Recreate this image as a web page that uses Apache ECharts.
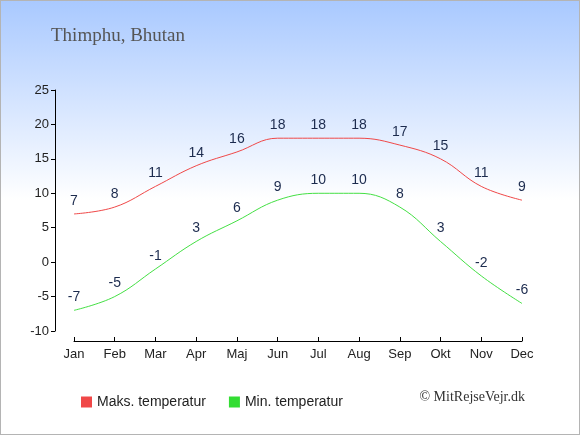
<!DOCTYPE html>
<html>
<head>
<meta charset="utf-8">
<script src="https://cdn.jsdelivr.net/npm/echarts@6/dist/echarts.min.js"></script>
<style>
  html, body { margin: 0; padding: 0; background: #fff; }
  #box { width: 578px; height: 433px; border: 1px solid #b4b4b4; }
</style>
</head>
<body>
<div id="box"></div>
<script>
const months = ['Jan','Feb','Mar','Apr','Maj','Jun','Jul','Aug','Sep','Okt','Nov','Dec']
const maxTemp = [7, 8, 11, 14, 16, 18, 18, 18, 17, 15, 11, 9]
const minTemp = [-7, -5, -1, 3, 6, 9, 10, 10, 8, 3, -2, -6]
const yTicks = { min: -10, max: 25, step: 5 }

const chart = echarts.init(document.getElementById('box'), null, { renderer: 'canvas' })

const lbl = { show: true, position: 'top', distance: 6, color: '#1c2b4e', fontSize: 14, fontFamily: 'Liberation Sans, Arial' }

chart.setOption({
  animation: false,
  backgroundColor: {
    type: 'linear', x: 0, y: 0, x2: 0, y2: 1,
    colorStops: [
      { offset: 0, color: '#a9c9ff' },
      { offset: 0.46, color: '#ffffff' },
      { offset: 1, color: '#ffffff' }
    ]
  },
  title: {
    text: 'Thimphu, Bhutan', left: 45, top: 21,
    textStyle: { fontFamily: 'Liberation Serif, serif', fontSize: 19, fontWeight: 'normal', color: '#555' }
  },
  legend: {
    left: 75, top: 389, icon: 'rect', itemWidth: 11, itemHeight: 11, itemGap: 23,
    textStyle: { fontFamily: 'Liberation Sans, Arial', fontSize: 14, color: '#222' },
    data: ['Maks. temperatur', 'Min. temperatur']
  },
  graphic: [{
    type: 'text', right: 54, top: 389,
    style: { text: '© MitRejseVejr.dk', fontFamily: 'Liberation Serif, serif', fontSize: 14, fill: '#333' }
  }],
  grid: { left: 73, right: 57, top: 89, bottom: 103 },
  xAxis: {
    type: 'category', data: months, boundaryGap: false, offset: 10,
    axisLine: { onZero: false, lineStyle: { color: '#000' } },
    axisTick: { inside: true, length: 4, alignWithLabel: true, lineStyle: { color: '#000' } },
    axisLabel: { color: '#222', fontSize: 13, fontFamily: 'Liberation Sans, Arial', margin: 7 },
    splitLine: { show: false }
  },
  yAxis: {
    type: 'value', min: yTicks.min, max: yTicks.max, interval: yTicks.step, offset: 19,
    axisLine: { show: true, lineStyle: { color: '#000' } },
    axisTick: { show: true, length: 4, lineStyle: { color: '#000' } },
    axisLabel: { color: '#222', fontSize: 13, fontFamily: 'Liberation Sans, Arial', margin: 6 },
    splitLine: { show: false }
  },
  series: [
    {
      name: 'Maks. temperatur', type: 'line', data: maxTemp, smooth: 0.4,
      symbol: 'circle', symbolSize: 0, color: '#f04848',
      lineStyle: { width: 1, color: '#f04848' }, label: lbl
    },
    {
      name: 'Min. temperatur', type: 'line', data: minTemp, smooth: 0.4,
      symbol: 'circle', symbolSize: 0, color: '#33dd33',
      lineStyle: { width: 1, color: '#44e044' }, label: lbl
    }
  ]
})
</script>
</body>
</html>
